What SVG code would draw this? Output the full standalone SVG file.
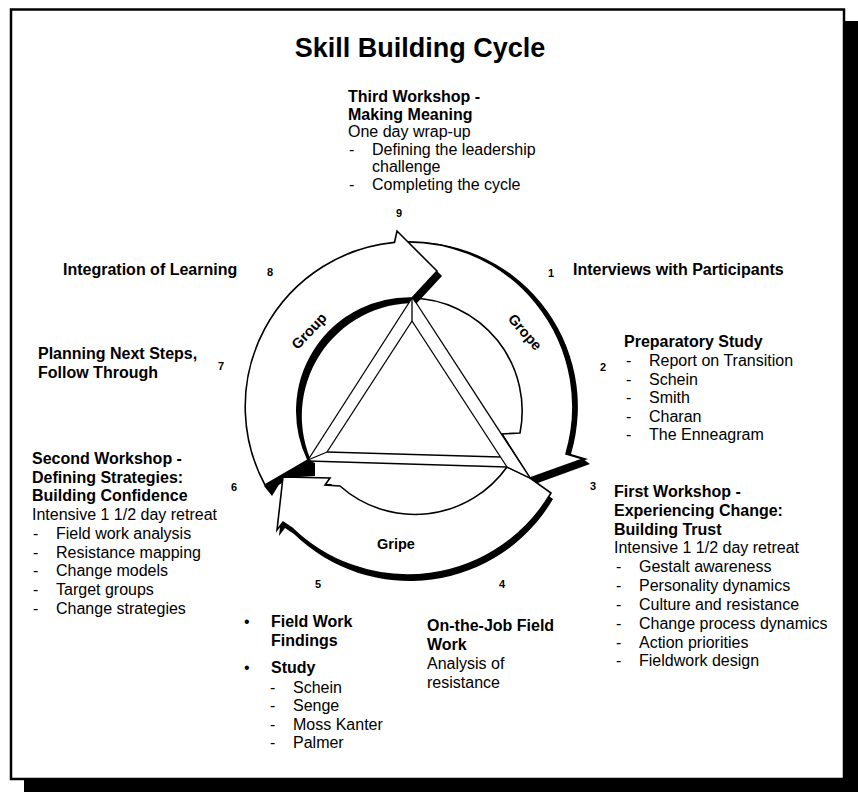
<svg xmlns="http://www.w3.org/2000/svg" width="858" height="792" viewBox="0 0 858 792">
<style>
text{font-family:"Liberation Sans",Arial,Helvetica,sans-serif;fill:#000}
.t{font-size:16px}
.b{font-weight:bold}
.n{font-size:11px;font-weight:bold;text-anchor:middle}
.h{font-size:27px;font-weight:bold;text-anchor:middle}
.al{font-size:14.5px;font-weight:bold;text-anchor:middle}
.ar{fill:#fff;stroke:#000;stroke-width:1.6;stroke-linejoin:miter;stroke-miterlimit:10}
.sh{fill:#000}
.ln{fill:none;stroke:#000;stroke-width:1.3}
</style>
<defs>
<path id="pGroup" d="M265 485 A165 165 0 0 1 394.5 242.4 L397 231 L437 271 L412 298 A113 113 0 0 0 308 460 Z"/>
<path id="pGrope" d="M394.5 242.4 A165 165 0 0 1 566 454 L583 459 L530 478 L502 434 L520 433 A113 113 0 0 0 412 298 Z"/>
<path id="pGripe" d="M551 493 A166 166 0 0 1 292 528 L283 522 L277 530 L283 477 L330 478 L325 485 L340 486 A113 113 0 0 0 507 467 L530 478 Z"/>
</defs>

<g id="frame">
<rect x="24" y="21" width="834" height="771" fill="#000"/>
<rect x="11" y="9.5" width="833" height="769.5" fill="#fff" stroke="#000" stroke-width="2.5"/>
</g>

<g id="title"><text class="h" x="420" y="57">Skill Building Cycle</text></g>

<g id="connectors">
<use href="#pGripe" class="sh" transform="translate(2,6)"/>
<use href="#pGrope" class="sh" transform="translate(5,0)"/>
<polygon class="sh" points="583,459 590,464 535,484 530,478"/>
<use href="#pGrope" class="ar"/>
<use href="#pGroup" class="sh" transform="translate(5,5)"/>
<use href="#pGroup" class="ar"/>
<polygon class="sh" points="264,486 308,460 315,463 315,476 283,478 272,496"/>
<use href="#pGripe" class="ar"/>
</g>

<g id="triangle">
<polygon points="412,298 530,478 507,467 308,460" fill="#fff"/>
<line class="ln" x1="412" y1="298" x2="308" y2="460"/>
<line class="ln" x1="412" y1="321" x2="327" y2="452" stroke-width="4"/>
<line class="ln" x1="308" y1="460" x2="327" y2="452"/>
<line class="ln" x1="327" y1="452" x2="500" y2="457"/>
<line class="ln" x1="308" y1="461" x2="507" y2="467" stroke-width="3.5"/>
<line class="ln" x1="412" y1="321" x2="507" y2="467"/>
<line class="ln" x1="413" y1="298" x2="530" y2="478" stroke-width="2.5"/>
<line class="ln" x1="507" y1="467" x2="530" y2="478"/>
<line class="ln" x1="412" y1="298" x2="412" y2="321"/>
</g>

<g id="arrow-labels">
<text class="al" transform="translate(309,331) rotate(-47)" y="5">Group</text>
<text class="al" transform="translate(525,332) rotate(49)" y="5">Grope</text>
<text class="al" x="396" y="549">Gripe</text>
</g>

<g id="node9">
<text class="t b" x="348" y="102">Third Workshop -</text>
<text class="t b" x="348" y="120">Making Meaning</text>
<text class="t" x="348" y="137">One day wrap-up</text>
<text class="t" x="349" y="155">-</text><text class="t" x="372" y="155">Defining the leadership</text>
<text class="t" x="372" y="172">challenge</text>
<text class="t" x="349" y="190">-</text><text class="t" x="372" y="190">Completing the cycle</text>
<text class="n" x="399" y="217">9</text>
</g>

<g id="node8">
<text class="t b" x="63" y="275">Integration of Learning</text>
<text class="n" x="270" y="276">8</text>
</g>

<g id="node1">
<text class="n" x="551" y="277">1</text>
<text class="t b" x="573" y="275">Interviews with Participants</text>
</g>

<g id="node2">
<text class="n" x="603" y="371">2</text>
<text class="t b" x="624" y="347">Preparatory Study</text>
<text class="t" x="626" y="366">-</text><text class="t" x="649" y="366">Report on Transition</text>
<text class="t" x="626" y="384.5">-</text><text class="t" x="649" y="384.5">Schein</text>
<text class="t" x="626" y="403">-</text><text class="t" x="649" y="403">Smith</text>
<text class="t" x="626" y="421.5">-</text><text class="t" x="649" y="421.5">Charan</text>
<text class="t" x="626" y="440">-</text><text class="t" x="649" y="440">The Enneagram</text>
</g>

<g id="node7">
<text class="t b" x="38" y="359">Planning Next Steps,</text>
<text class="t b" x="38" y="378">Follow Through</text>
<text class="n" x="221" y="370">7</text>
</g>

<g id="node6">
<text class="n" x="234" y="491">6</text>
<text class="t b" x="32" y="464">Second Workshop -</text>
<text class="t b" x="32" y="482.5">Defining Strategies:</text>
<text class="t b" x="32" y="501">Building Confidence</text>
<text class="t" x="32" y="520">Intensive 1 1/2 day retreat</text>
<text class="t" x="33" y="539">-</text><text class="t" x="56" y="539">Field work analysis</text>
<text class="t" x="33" y="557.5">-</text><text class="t" x="56" y="557.5">Resistance mapping</text>
<text class="t" x="33" y="576">-</text><text class="t" x="56" y="576">Change models</text>
<text class="t" x="33" y="595">-</text><text class="t" x="56" y="595">Target groups</text>
<text class="t" x="33" y="614">-</text><text class="t" x="56" y="614">Change strategies</text>
</g>

<g id="node3">
<text class="n" x="593" y="490">3</text>
<text class="t b" x="614" y="497">First Workshop -</text>
<text class="t b" x="614" y="516">Experiencing Change:</text>
<text class="t b" x="614" y="534.5">Building Trust</text>
<text class="t" x="614" y="553">Intensive 1 1/2 day retreat</text>
<text class="t" x="616" y="572">-</text><text class="t" x="639" y="572">Gestalt awareness</text>
<text class="t" x="616" y="591">-</text><text class="t" x="639" y="591">Personality dynamics</text>
<text class="t" x="616" y="610">-</text><text class="t" x="639" y="610">Culture and resistance</text>
<text class="t" x="616" y="628.5">-</text><text class="t" x="639" y="628.5">Change process dynamics</text>
<text class="t" x="616" y="647.5">-</text><text class="t" x="639" y="647.5">Action priorities</text>
<text class="t" x="616" y="666">-</text><text class="t" x="639" y="666">Fieldwork design</text>
</g>

<g id="node5">
<text class="n" x="318" y="588">5</text>
<text class="t" x="244" y="627">•</text><text class="t b" x="271" y="627">Field Work</text>
<text class="t b" x="271" y="646">Findings</text>
<text class="t" x="244" y="673">•</text><text class="t b" x="271" y="673">Study</text>
<text class="t" x="270" y="693">-</text><text class="t" x="293" y="693">Schein</text>
<text class="t" x="270" y="711">-</text><text class="t" x="293" y="711">Senge</text>
<text class="t" x="270" y="729.5">-</text><text class="t" x="293" y="729.5">Moss Kanter</text>
<text class="t" x="270" y="748">-</text><text class="t" x="293" y="748">Palmer</text>
</g>

<g id="node4">
<text class="n" x="502" y="588">4</text>
<text class="t b" x="427" y="631">On-the-Job Field</text>
<text class="t b" x="427" y="650">Work</text>
<text class="t" x="427" y="669">Analysis of</text>
<text class="t" x="427" y="688">resistance</text>
</g>
</svg>
